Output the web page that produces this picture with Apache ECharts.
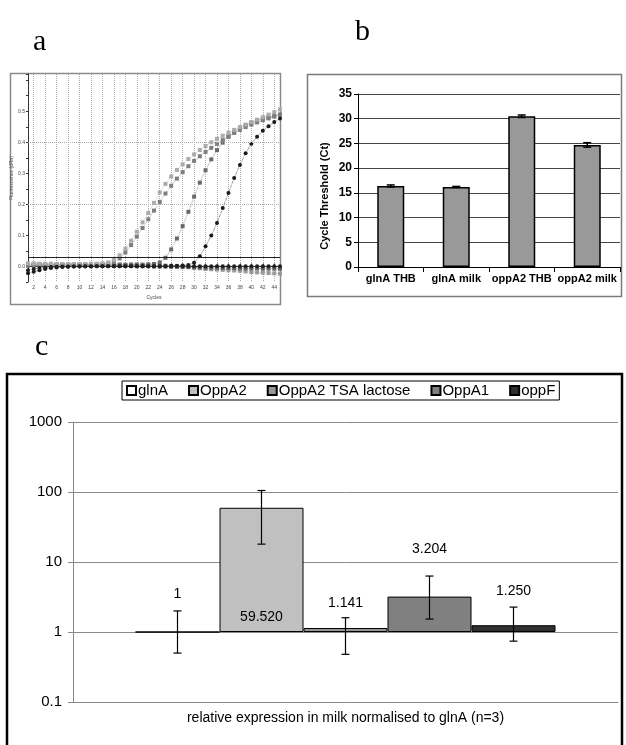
<!DOCTYPE html>
<html>
<head>
<meta charset="utf-8">
<script src="https://cdn.jsdelivr.net/npm/echarts@6/dist/echarts.min.js"></script>
<style>
  html, body { margin: 0; padding: 0; background: #fff; }
  #chart { width: 626px; height: 745px; }
</style>
</head>
<body>
<div id="chart"></div>
<script>
// ---- panel a : amplification plot ----
var cycles = [1,2,3,4,5,6,7,8,9,10,11,12,13,14,15,16,17,18,19,20,21,22,23,24,25,26,27,28,29,30,31,32,33,34,35,36,37,38,39,40,41,42,43,44,45];
var curveA = [0.010,0.010,0.009,0.009,0.009,0.008,0.008,0.008,0.008,0.008,0.008,0.009,0.009,0.010,
  0.013,0.021,0.036,0.057,0.083,0.112,0.142,0.172,0.205,0.238,0.266,0.290,0.311,0.329,0.346,0.361,
  0.375,0.388,0.400,0.411,0.421,0.431,0.440,0.449,0.457,0.465,0.473,0.481,0.489,0.497,0.506];
var curveB = [0.006,0.006,0.005,0.005,0.005,0.005,0.005,0.005,0.005,0.005,0.005,0.005,0.006,0.007,0.009,
  0.014,0.026,0.045,0.069,0.096,0.124,0.152,0.180,0.208,0.235,0.260,0.283,0.304,0.323,0.340,
  0.355,0.369,0.382,0.395,0.407,0.419,0.430,0.440,0.449,0.457,0.464,0.471,0.477,0.483,0.489];
var curveC = [0.004,0.004,0.005,0.005,0.005,0.005,0.005,0.005,0.005,0.005,0.005,0.005,0.005,0.005,0.005,
  0.005,0.005,0.005,0.006,0.006,0.006,0.007,0.008,
  0.013,0.028,0.055,0.090,0.130,0.176,0.225,0.270,0.310,0.345,0.375,0.399,0.418,0.433,0.445,0.455,
  0.463,0.470,0.476,0.481,0.485,0.489];
var curveD = [-0.022,-0.017,-0.012,-0.008,-0.005,-0.003,-0.002,-0.001,0.000,0.000,0.000,0.000,0.001,0.001,0.001,
  0.001,0.001,0.001,0.001,0.001,0.001,0.001,0.001,0.001,0.001,0.002,0.002,0.003,0.005,
  0.012,0.033,0.065,0.100,0.140,0.188,0.237,0.285,0.327,0.365,0.395,0.418,0.437,0.452,0.465,0.477];
var flatF1 = [-0.012,-0.008,-0.005,-0.003,-0.002,-0.001,0,0,0,0.001,0.001,0.001,0.001,0.001,0.001,
  0.001,0.001,0.001,0.001,0.001,0.001,0.001,0.001,0.001,0.001,0.001,0.001,0.001,0.001,0.001,
  0.001,0.001,0.001,0.001,0.001,0.001,0.001,0.001,0.001,0.001,0.001,0.001,0.001,0.001,0.001];
var flatF2 = [0.008,0.008,0.008,0.007,0.007,0.007,0.007,0.007,0.007,0.007,0.007,0.007,0.007,0.007,0.007,
  0.007,0.007,0.006,0.006,0.006,0.005,0.005,0.004,0.004,0.003,
  0.002,0.001,0.000,-0.002,-0.004,-0.006,-0.008,-0.009,-0.010,-0.011,-0.012,-0.013,-0.014,-0.016,
  -0.018,-0.019,-0.020,-0.021,-0.022,-0.023];
var flatF3 = [0.003,0.003,0.003,0.003,0.003,0.003,0.003,0.003,0.003,0.003,0.003,0.003,0.003,0.002,0.002,
  0.002,0.002,0.002,0.002,0.001,0.001,0.001,0.000,0.000,0.000,-0.001,-0.001,-0.002,-0.002,-0.003,
  -0.003,-0.004,-0.004,-0.004,-0.005,-0.005,-0.005,-0.006,-0.006,-0.006,-0.006,-0.007,-0.007,-0.007,-0.007];
var thresholdValue = 0.025;
var dottedLevels = [0.2, 0.4];

// ---- panel b : Ct values ----
var ctCategories = ['glnA THB', 'glnA milk', 'oppA2 THB', 'oppA2 milk'];
var ctValues = [16.4, 16.2, 30.5, 24.7];
var ctErr = [0.2, 0.1, 0.25, 0.45];

// ---- panel c : relative expression ----
var geneNames = ['glnA', 'OppA2', 'OppA2 TSA lactose', 'OppA1', 'oppF'];
var relExpr = [1, 59.52, 1.141, 3.204, 1.25];
var relLabels = ['1', '59.520', '1.141', '3.204', '1.250'];
var errLow = [0.5, 18, 0.48, 1.53, 0.74];
var errHigh = [2.0, 105, 1.6, 6.3, 2.27];
var xTitleC = 'relative expression in milk normalised to glnA (n=3)';

var FONT = "'Liberation Sans', Arial, sans-serif";
var barColors = ['#ffffff', '#c0c0c0', '#969696', '#808080', '#303030'];
var labelPos = [
  { position: 'top', offset: [0, -25] },
  { position: 'insideBottom', offset: [0, -3] },
  { position: 'top', offset: [0, -13] },
  { position: 'top', offset: [0, -35] },
  { position: 'top', offset: [0, -22] }
];
var BARW_C = 84;

var myChart = echarts.init(document.getElementById('chart'));

var evenOnly = function (i) { return (i + 1) % 2 === 0; };

function ampSeries(name, data, symbol, color) {
  return {
    name: name, type: 'line', xAxisIndex: 0, yAxisIndex: 0,
    data: data, symbol: symbol, symbolSize: 4, showAllSymbol: true,
    itemStyle: { color: color },
    lineStyle: { color: color, width: 0.7, type: 'dotted' },
    animation: false
  };
}

var series = [
  ampSeries('F2', flatF2, 'rect', '#9a9a9a'),
  ampSeries('F3', flatF3, 'rect', '#606060'),
  ampSeries('C', curveC, 'rect', '#6a6a6a'),
  ampSeries('B', curveB, 'rect', '#7e7e7e'),
  ampSeries('A', curveA, 'rect', '#ababab'),
  ampSeries('D', curveD, 'circle', '#1a1a1a'),
  ampSeries('F1', flatF1, 'circle', '#202020')
];
series[6].markLine = {
  symbol: 'none', silent: true, label: { show: false }, animation: false,
  data: [{ yAxis: thresholdValue, lineStyle: { color: '#222', width: 1, type: 'solid' } }]
    .concat(dottedLevels.map(function (v) {
      return { yAxis: v, lineStyle: { color: '#aaa', width: 1, type: 'dotted' } };
    }))
};

// panel b bars
series.push({
  name: 'Ct', type: 'bar', xAxisIndex: 1, yAxisIndex: 1,
  data: ctValues, barWidth: 27,
  itemStyle: { color: '#999999', borderColor: '#000', borderWidth: 1.5 },
  animation: false
});
series.push({
  type: 'custom', xAxisIndex: 1, yAxisIndex: 1, z: 5, animation: false,
  data: ctValues.map(function (v, i) { return [i, v - ctErr[i], v + ctErr[i]]; }),
  renderItem: function (params, api) {
    var lo = api.coord([api.value(0), api.value(1)]);
    var hi = api.coord([api.value(0), api.value(2)]);
    var w = 4;
    var st = { stroke: '#000', lineWidth: 1.5 };
    return { type: 'group', children: [
      { type: 'line', shape: { x1: lo[0], y1: lo[1], x2: hi[0], y2: hi[1] }, style: st },
      { type: 'line', shape: { x1: lo[0] - w, y1: lo[1], x2: lo[0] + w, y2: lo[1] }, style: st },
      { type: 'line', shape: { x1: hi[0] - w, y1: hi[1], x2: hi[0] + w, y2: hi[1] }, style: st }
    ]};
  }
});

// panel c bars
geneNames.forEach(function (g, i) {
  series.push({
    name: g, type: 'bar', xAxisIndex: 2, yAxisIndex: 2,
    data: [relExpr[i]], barWidth: BARW_C, barGap: '0%',
    itemStyle: { color: barColors[i], borderColor: '#000', borderWidth: 1 },
    label: {
      show: true, position: labelPos[i].position, offset: labelPos[i].offset,
      formatter: relLabels[i], color: '#000', fontSize: 14, fontFamily: FONT
    },
    animation: false
  });
});
series.push({
  type: 'custom', xAxisIndex: 2, yAxisIndex: 2, z: 5, animation: false,
  data: relExpr.map(function (v, i) { return [0, errLow[i], errHigh[i], i]; }),
  renderItem: function (params, api) {
    var lo = api.coord([0, api.value(1)]);
    var hi = api.coord([0, api.value(2)]);
    var dx = (api.value(3) - 2) * BARW_C;
    var x = lo[0] + dx;
    var w = 4;
    var st = { stroke: '#000', lineWidth: 1.2 };
    return { type: 'group', children: [
      { type: 'line', shape: { x1: x, y1: lo[1], x2: x, y2: hi[1] }, style: st },
      { type: 'line', shape: { x1: x - w, y1: lo[1], x2: x + w, y2: lo[1] }, style: st },
      { type: 'line', shape: { x1: x - w, y1: hi[1], x2: x + w, y2: hi[1] }, style: st }
    ]};
  }
});

var option = {
  backgroundColor: '#fff',
  textStyle: { fontFamily: FONT },
  graphic: [
    { type: 'rect', shape: { x: 10.5, y: 73.5, width: 270, height: 231 },
      style: { fill: 'none', stroke: '#8a8a8a', lineWidth: 1.5 }, z: -1 },
    { type: 'rect', shape: { x: 307.5, y: 74.5, width: 314, height: 222 },
      style: { fill: 'none', stroke: '#7a7a7a', lineWidth: 1.5 }, z: -1 },
    { type: 'rect', shape: { x: 7, y: 374, width: 615, height: 380 },
      style: { fill: 'none', stroke: '#000', lineWidth: 2.5 }, z: -1 },
    { type: 'text', x: 33, y: 42, style: { text: 'a', font: "30px 'Liberation Serif', serif", verticalAlign: 'middle', fill: '#000' } },
    { type: 'text', x: 355, y: 32, style: { text: 'b', font: "30px 'Liberation Serif', serif", verticalAlign: 'middle', fill: '#000' } },
    { type: 'text', x: 35, y: 347, style: { text: 'c', font: "30px 'Liberation Serif', serif", verticalAlign: 'middle', fill: '#000' } },
    { type: 'text', x: 325, y: 196, rotation: Math.PI / 2,
      style: { text: 'Cycle Threshold (Ct)', font: "bold 11px 'Liberation Sans', Arial", align: 'center', verticalAlign: 'middle', fill: '#000' } }
  ],
  legend: {
    data: geneNames,
    left: 122, top: 381,
    itemWidth: 9, itemHeight: 9, itemGap: 20,
    icon: 'rect',
    borderColor: '#000', borderWidth: 1, padding: [2, 4, 2, 4],
    textStyle: { fontSize: 15, color: '#000', fontFamily: FONT, padding: [0, 0, 0, -3] },
    selectedMode: false
  },
  grid: [
    { left: 28, top: 74, width: 252, height: 208 },
    { left: 358, top: 94, width: 262, height: 173 },
    { left: 73, top: 422, width: 545, height: 280 }
  ],
  xAxis: [
    {
      gridIndex: 0, type: 'category', data: cycles, boundaryGap: false,
      name: 'Cycles', nameLocation: 'middle', nameGap: 13,
      nameTextStyle: { fontSize: 5, color: '#444' },
      axisLine: { lineStyle: { color: '#333', width: 1 } },
      axisTick: { show: true, inside: true, length: 3, interval: evenOnly, lineStyle: { color: '#333' } },
      axisLabel: { fontSize: 5, color: '#444', margin: 3, interval: evenOnly },
      splitLine: { show: true, interval: evenOnly, lineStyle: { color: '#aaa', type: 'dotted', width: 1 } }
    },
    {
      gridIndex: 1, type: 'category', data: ctCategories,
      axisLine: { lineStyle: { color: '#000', width: 1 } },
      axisTick: { show: true, length: 5, lineStyle: { color: '#000' } },
      axisLabel: { fontSize: 11, fontWeight: 'bold', color: '#000', margin: 6, interval: 0 }
    },
    {
      gridIndex: 2, type: 'category', data: [xTitleC],
      axisLine: { lineStyle: { color: '#888', width: 1 } },
      axisTick: { show: false },
      axisLabel: { fontSize: 14, color: '#000', margin: 9 }
    }
  ],
  yAxis: [
    {
      gridIndex: 0, type: 'value', min: -0.05, max: 0.62, interval: 0.05,
      name: 'Fluorescence (dRn)', nameLocation: 'middle', nameGap: 11,
      nameTextStyle: { fontSize: 5, color: '#444' },
      axisLine: { show: true, lineStyle: { color: '#333', width: 1 } },
      axisTick: { show: true, length: 2, lineStyle: { color: '#333' } },
      axisLabel: {
        fontSize: 5, color: '#444', margin: 3,
        formatter: function (v) {
          var t = Math.round(v * 10);
          if (Math.abs(v * 10 - t) > 1e-6 || t < 0 || t > 5) return '';
          return (t / 10).toFixed(1);
        }
      },
      splitLine: { show: false }
    },
    {
      gridIndex: 1, type: 'value', min: 0, max: 35, interval: 5,
      axisLine: { show: true, lineStyle: { color: '#000', width: 1 } },
      axisTick: { show: true, length: 4, lineStyle: { color: '#000' } },
      axisLabel: { fontSize: 12, fontWeight: 'bold', color: '#000', margin: 6 },
      splitLine: { show: true, lineStyle: { color: '#444', width: 1 } }
    },
    {
      gridIndex: 2, type: 'log', logBase: 10, min: 0.1, max: 1000,
      axisLine: { show: true, lineStyle: { color: '#888', width: 1 } },
      axisTick: { show: true, length: 5, lineStyle: { color: '#888' } },
      axisLabel: { fontSize: 15, color: '#000', margin: 11, formatter: function (v) { return String(v); } },
      splitLine: { show: true, lineStyle: { color: '#8a8a8a', width: 1 } }
    }
  ],
  series: series
};

myChart.setOption(option);
</script>
</body>
</html>
